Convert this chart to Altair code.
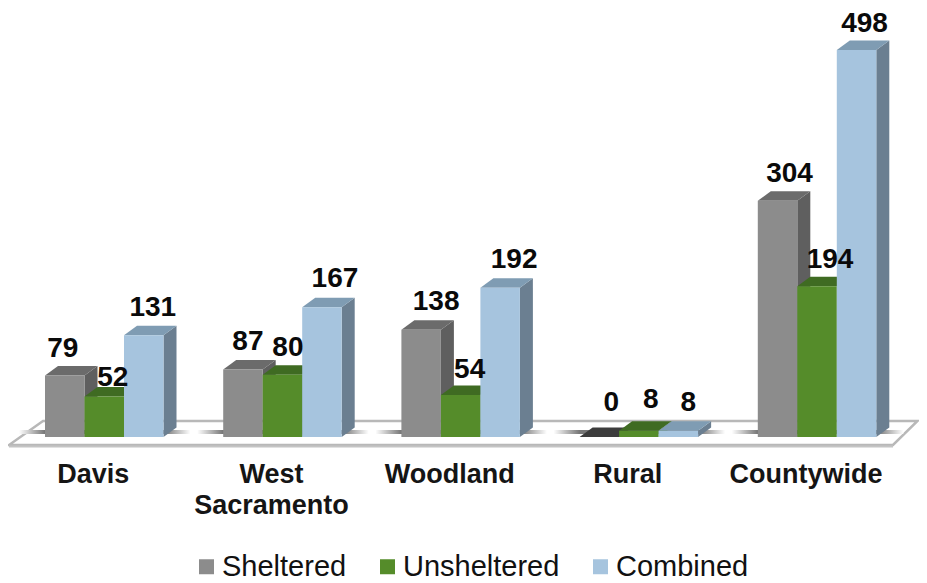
import altair as alt
import pandas as pd

# ---- data ----
categories = ["Davis", "West Sacramento", "Woodland", "Rural", "Countywide"]
category_lines = [["Davis"], ["West", "Sacramento"], ["Woodland"], ["Rural"], ["Countywide"]]
series_names = ["Sheltered", "Unsheltered", "Combined"]
sheltered = [79, 87, 138, 0, 304]
unsheltered = [52, 80, 54, 8, 194]
combined = [131, 167, 192, 8, 498]

# ---- layout: all in pixels, converted to data units for the scales ----
W, H = 911, 575
PAD_L, PAD_T = 8, 8
GROUP_PX = 178.2       # one category unit on x
FIRST_BAR = 45         # left of the first bar (image px)
BASE_Y = 437           # image y of value 0
PX_PER_VALUE = 0.777
BAR_W = 39.5 / GROUP_PX
DEPTH_X = 13 / GROUP_PX
DEPTH_Y = 9.5 / PX_PER_VALUE

def ux(px):
    return (px - FIRST_BAR) / GROUP_PX

def uy(px):
    return (BASE_Y - px) / PX_PER_VALUE

x_scale = alt.Scale(domain=[ux(PAD_L), ux(PAD_L + W)], nice=False, zero=False)
y_scale = alt.Scale(domain=[uy(PAD_T + H), uy(PAD_T)], nice=False, zero=False)
X = lambda f: alt.X(f, type="quantitative", scale=x_scale, axis=None)
Y = lambda f: alt.Y(f, type="quantitative", scale=y_scale, axis=None)

front_colors = ["#8c8c8c", "#558c2a", "#a6c4de"]
top_colors = ["#6b6b6b", "#3f6b22", "#7f9cb3"]
side_colors = ["#5f5f5f", "#3f6b22", "#6b7f91"]
ZERO_TOP = "#3c3c3c"
TEXT = "#0a0a0a"

# label offsets from top-centre of each bar, px
label_dx = [[-2, 8.5, 9], [5, 5.5, 13], [15, 9, 14], [12, 12, 10], [12, 13, 8]]
label_dy = [[27, 19, 27], [27, 27, 28], [28, 25, 28], [34, 31, 28], [27, 26, 26]]

values = [sheltered, unsheltered, combined]
fronts, tops, sides, labels = [], [], [], []
for s, name in enumerate(series_names):
    for g, cat in enumerate(categories):
        v = values[s][g]
        u = g + s * BAR_W
        fronts.append(dict(series=name, g=g, x=u, x2=u + BAR_W, y=v, y2=0))
        tops += [dict(series=name, g=g, v=v, x=u, x2=u + BAR_W, y=v),
                 dict(series=name, g=g, v=v, x=u + DEPTH_X, x2=u + BAR_W + DEPTH_X, y=v + DEPTH_Y)]
        sides += [dict(series=name, g=g, x=u + BAR_W, y=v, y2=0),
                  dict(series=name, g=g, x=u + BAR_W + DEPTH_X, y=v + DEPTH_Y, y2=DEPTH_Y)]
        labels.append(dict(text=str(v),
                           x=u + BAR_W / 2 + label_dx[g][s] / GROUP_PX,
                           y=v + label_dy[g][s] / PX_PER_VALUE))
fronts, tops, sides = pd.DataFrame(fronts), pd.DataFrame(tops), pd.DataFrame(sides)

# floor
floor_df = pd.DataFrame([
    dict(y=uy(445), x=ux(PAD_L + 1), x2=ux(893)),
    dict(y=uy(421), x=ux(43), x2=ux(917.5)),
])
floor = alt.Chart(floor_df).mark_area(
    orient="horizontal", color="#ffffff", stroke="#b8b8b8", strokeWidth=2.5, opacity=1
).encode(x=X("x"), x2="x2", y=Y("y"))
floor_front = alt.Chart(pd.DataFrame([dict(x=ux(PAD_L + 1), x2=ux(893), y=uy(446.5))])).mark_rule(
    color="#c4c4c4", strokeWidth=2
).encode(x=X("x"), x2="x2", y=Y("y"))

# soft shadow on the floor
shadow_df = pd.DataFrame([
    dict(x=g - 26 / GROUP_PX, x2=g + 3 * BAR_W + 27 / GROUP_PX, y=uy(430), y2=uy(434))
    for g in range(len(categories))
])
shadow = alt.Chart(shadow_df).mark_rect(
    color=alt.Gradient(gradient="linear", x1=0, x2=1, y1=0, y2=0, stops=[
        alt.GradientStop(offset=0, color="#ffffff"),
        alt.GradientStop(offset=0.15, color="#777777"),
        alt.GradientStop(offset=0.85, color="#777777"),
        alt.GradientStop(offset=1, color="#ffffff"),
    ])
).encode(x=X("x"), x2="x2", y=Y("y"), y2="y2")

layers = [floor, floor_front, shadow]
color_scale = alt.Scale(domain=series_names, range=front_colors)
legend = alt.Legend(
    title=None, orient="none", legendX=184, legendY=544, direction="horizontal",
    symbolType="square", symbolSize=225, symbolStrokeWidth=0, labelFontSize=29,
    labelFont="Liberation Sans", labelColor="#111111", labelOffset=1, columnPadding=26,
    labelLimit=300, symbolOpacity=1,
)
for s, name in enumerate(series_names):
    side = alt.Chart(sides[sides.series == name]).mark_area(
        orient="vertical", color=side_colors[s], opacity=1
    ).encode(x=X("x"), y=Y("y"), y2="y2", detail="g:N")
    top = alt.Chart(tops[tops.series == name]).mark_area(
        orient="horizontal", color=top_colors[s], opacity=1
    ).encode(x=X("x"), x2="x2", y=Y("y"), detail="g:N",
             fill=alt.condition("datum.v === 0", alt.value(ZERO_TOP), alt.value(top_colors[s])))
    front = alt.Chart(fronts[fronts.series == name]).mark_rect().encode(
        x=X("x"), x2="x2", y=Y("y"), y2="y2",
        color=alt.Color("series:N", scale=color_scale, legend=legend),
    )
    layers += [side, top, front]

value_text = alt.Chart(pd.DataFrame(labels)).mark_text(
    font="Liberation Sans", fontWeight="bold", fontSize=28, color=TEXT, baseline="middle"
).encode(x=X("x"), y=Y("y"), text="text:N")
layers.append(value_text)

# category labels
cat_rows = []
for g, lines in enumerate(category_lines):
    for k, line in enumerate(lines):
        cat_rows.append(dict(text=line, x=g + 1.5 * BAR_W - 11 / GROUP_PX, y=uy(475 + 31 * k)))
cat_text = alt.Chart(pd.DataFrame(cat_rows)).mark_text(
    font="Liberation Sans", fontWeight="bold", fontSize=27, color="#151515", baseline="middle"
).encode(x=X("x"), y=Y("y"), text="text:N")
layers.append(cat_text)

chart = alt.layer(*layers).properties(
    width=W, height=H, padding=0, autosize=alt.AutoSizeParams(type="none"),
    background="#ffffff",
).configure_view(stroke=None)

chart.save("out.html", embed_options={"renderer": "svg", "actions": False})
